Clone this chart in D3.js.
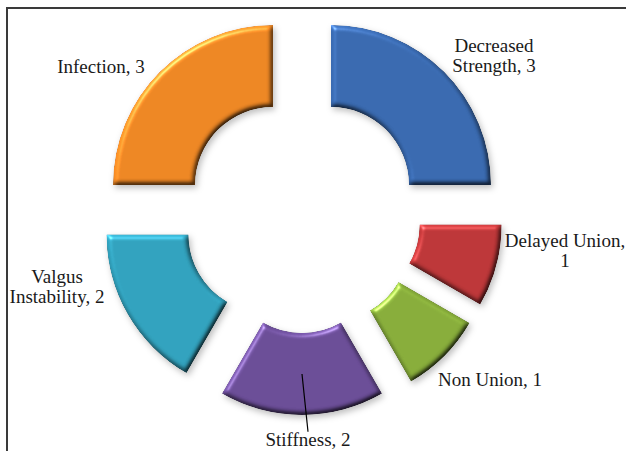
<!DOCTYPE html>
<html>
<head>
<meta charset="utf-8">
<script src="https://cdn.jsdelivr.net/npm/d3@7/dist/d3.min.js"></script>
<style>
  html, body { margin: 0; padding: 0; background: #fff; }
  svg { display: block; }
  text { font-family: "Liberation Serif", "Times New Roman", serif; fill: #1a1a1a; }
</style>
</head>
<body>
<svg id="chart" width="626" height="451"></svg>
<script>
// Complications and their counts, clockwise from 12 o'clock
const categories = ["Decreased Strength", "Delayed Union", "Non Union", "Stiffness", "Valgus Instability", "Infection"];
const values = [3, 1, 1, 2, 2, 3];
// words placed on the first line of each wrapped label (0 = single line)
const labelBreaks = [1, 2, 0, 0, 1, 0];

// Layout & styling
const colors = ["#3a6bb2", "#bf3739", "#89af3b", "#6c4e99", "#32a4c0", "#f08824"];
const W = 626, H = 451;
const cx = 302, cy = 214;
const outerR = 160, innerR = 78, explode = 41;
const fontSize = 19, lineH = 20;
// label anchors (centre of first baseline) relative to the chart centre
const labelPos = [[192, -162], [263, 33], [188, 172], [6, 232], [-245, 69], [-201, -141]];

const svg = d3.select("#chart");
const defs = svg.append("defs");

// soft round bevel + drop shadow
const f = defs.append("filter").attr("id", "bevel")
  .attr("x", "-20%").attr("y", "-20%").attr("width", "140%").attr("height", "140%")
  .attr("color-interpolation-filters", "sRGB");
f.append("feGaussianBlur").attr("in", "SourceAlpha").attr("stdDeviation", 2.5).attr("result", "blur");
f.append("feDiffuseLighting").attr("in", "blur").attr("surfaceScale", 3).attr("diffuseConstant", 1)
  .attr("lighting-color", "#fff").attr("result", "diff")
  .append("feDistantLight").attr("azimuth", 235).attr("elevation", 55);
f.append("feComposite").attr("in", "SourceGraphic").attr("in2", "diff")
  .attr("operator", "arithmetic").attr("k1", 1.2).attr("k2", 0).attr("k3", 0).attr("k4", 0).attr("result", "shaded");
f.append("feSpecularLighting").attr("in", "blur").attr("surfaceScale", 3).attr("specularConstant", 0.35)
  .attr("specularExponent", 40).attr("lighting-color", "#fff").attr("result", "spec")
  .append("feDistantLight").attr("azimuth", 235).attr("elevation", 40);
f.append("feComposite").attr("in", "spec").attr("in2", "SourceAlpha").attr("operator", "in").attr("result", "specIn");
f.append("feComposite").attr("in", "shaded").attr("in2", "specIn")
  .attr("operator", "arithmetic").attr("k1", 0).attr("k2", 1).attr("k3", 1).attr("k4", 0).attr("result", "lit");
f.append("feComposite").attr("in", "lit").attr("in2", "SourceAlpha").attr("operator", "in").attr("result", "litIn");
f.append("feGaussianBlur").attr("in", "SourceAlpha").attr("stdDeviation", 3).attr("result", "sblur");
f.append("feOffset").attr("in", "sblur").attr("dx", 2).attr("dy", 3).attr("result", "soff");
f.append("feFlood").attr("flood-color", "#000").attr("flood-opacity", 0.25).attr("result", "sflood");
f.append("feComposite").attr("in", "sflood").attr("in2", "soff").attr("operator", "in").attr("result", "shadow");
const m = f.append("feMerge");
m.append("feMergeNode").attr("in", "shadow");
m.append("feMergeNode").attr("in", "litIn");

// frame (top and left edges)
svg.append("path")
  .attr("d", `M7,${H} L7,8 L${W},8`)
  .attr("fill", "none").attr("stroke", "#3a3a3a").attr("stroke-width", 2);

const pie = d3.pie().sort(null).value(d => d);
const arcs = pie(values);
const arc = d3.arc().innerRadius(innerR).outerRadius(outerR);
const mid = d => (d.startAngle + d.endAngle) / 2;
const shift = d => [explode * Math.sin(mid(d)), -explode * Math.cos(mid(d))];

const g = svg.append("g").attr("transform", `translate(${cx},${cy})`);

g.selectAll("path.slice").data(arcs).join("path")
  .attr("class", "slice")
  .attr("transform", d => `translate(${shift(d)})`)
  .attr("d", arc)
  .attr("fill", (d, i) => colors[i])
  .attr("filter", "url(#bevel)");

// data labels
const labels = g.selectAll("text.lbl").data(arcs).join("text")
  .attr("class", "lbl")
  .attr("text-anchor", "middle")
  .attr("font-size", fontSize)
  .attr("x", (d, i) => labelPos[i][0])
  .attr("y", (d, i) => labelPos[i][1]);

labels.each(function (d, i) {
  const full = `${categories[i]}, ${values[i]}`;
  const words = full.split(" ");
  const lines = labelBreaks[i] ? [words.slice(0, labelBreaks[i]).join(" "), words.slice(labelBreaks[i]).join(" ")] : [full];
  d3.select(this).selectAll("tspan").data(lines).join("tspan")
    .attr("x", labelPos[i][0])
    .attr("dy", (t, k) => k === 0 ? 0 : lineH)
    .text(t => t);
});

// leader line for the Stiffness label
const si = categories.indexOf("Stiffness");
const sc = arc.centroid(arcs[si]);
const ss = shift(arcs[si]);
g.append("line")
  .attr("x1", sc[0] + ss[0]).attr("y1", sc[1] + ss[1])
  .attr("x2", labelPos[si][0]).attr("y2", labelPos[si][1] - fontSize * 0.75)
  .attr("stroke", "#000").attr("stroke-width", 1.2);
</script>
</body>
</html>
